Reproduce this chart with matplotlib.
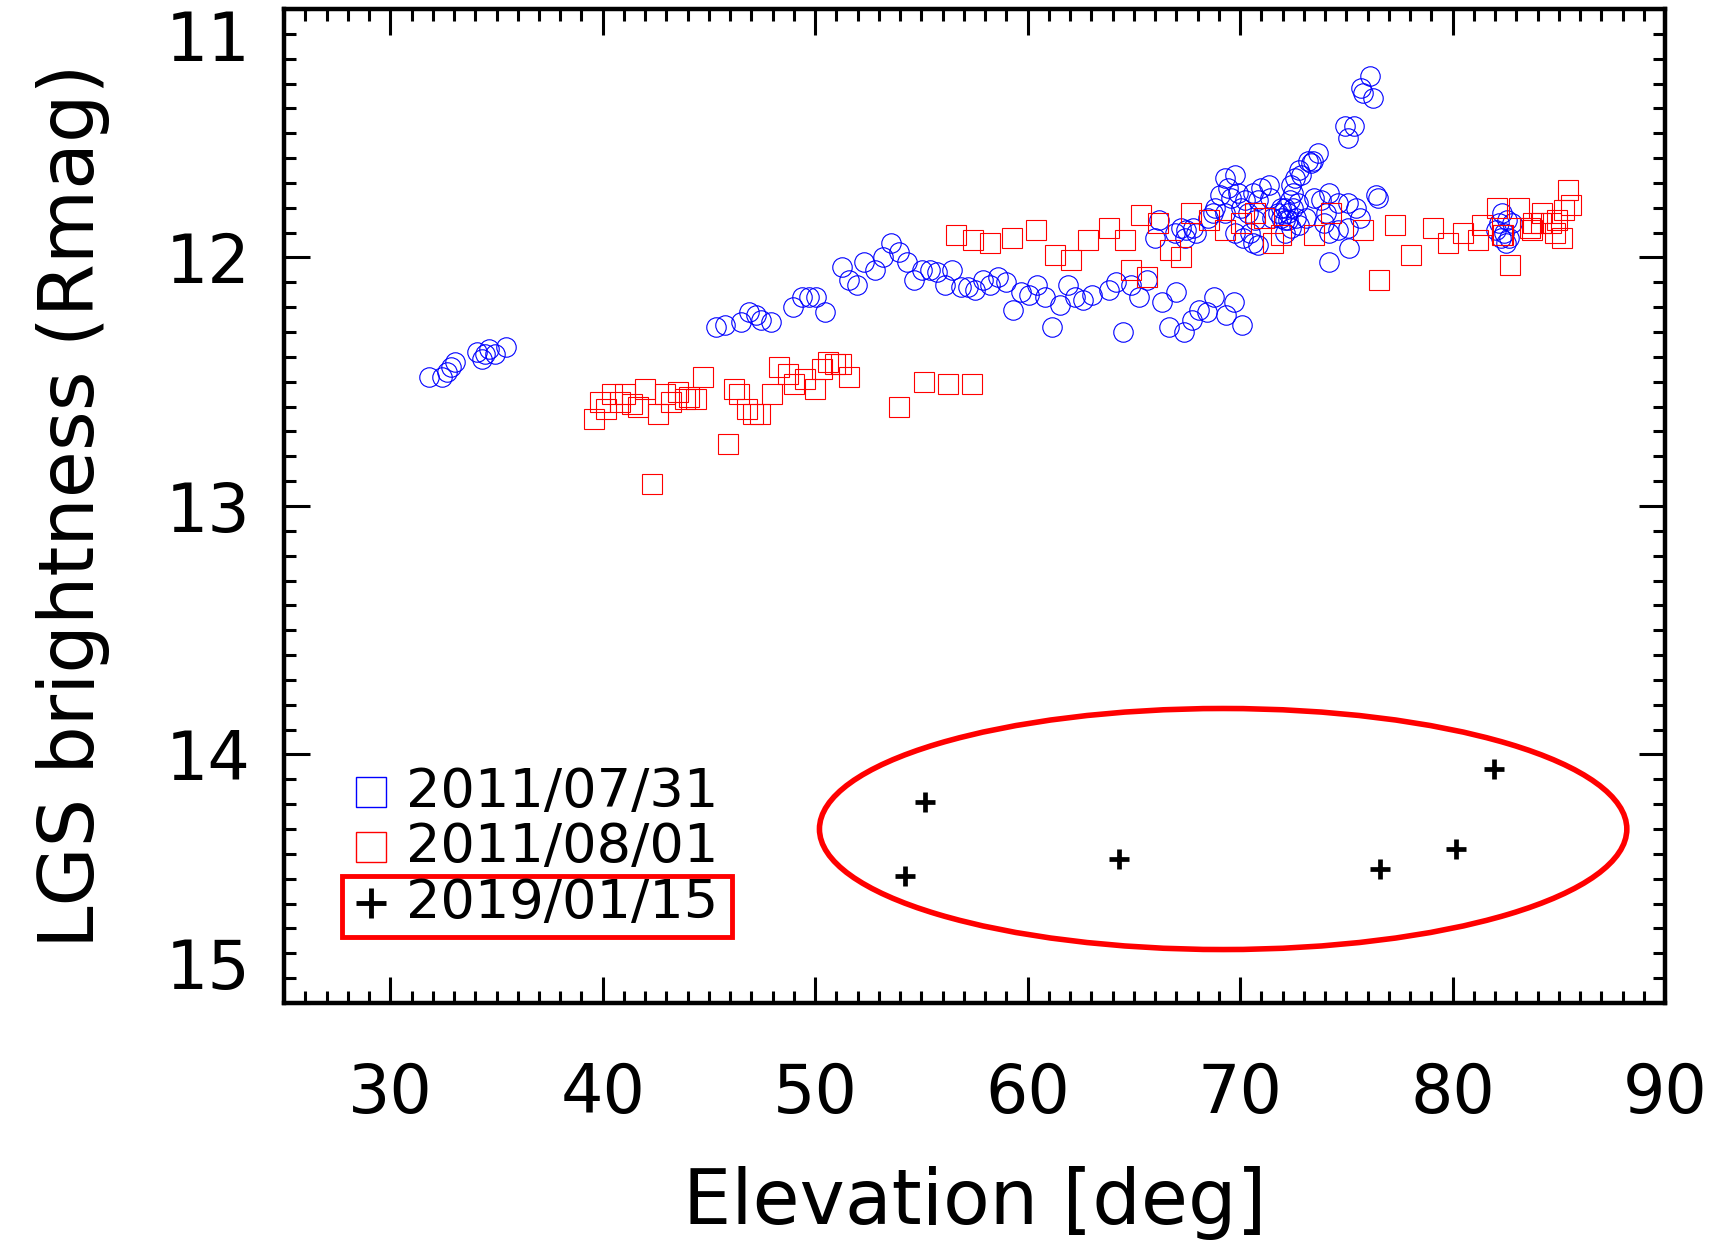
import matplotlib
matplotlib.use("Agg")
import matplotlib.pyplot as plt
from matplotlib.patches import Ellipse, Rectangle
from matplotlib.ticker import MultipleLocator

# 2011/07/31 (blue circles)
blue_elev = [31.84, 32.42, 32.65, 32.84, 33.05, 34.06, 34.30, 34.46, 34.64, 34.92, 35.44,
             45.35, 45.77, 46.49, 46.88, 47.21, 47.47, 47.92, 48.97, 49.36, 49.72,
             50.04, 50.44, 51.25, 51.61, 51.97, 52.32, 52.83, 53.19, 53.58, 53.94,
             54.30, 54.66, 55.02, 55.38, 55.74, 56.10, 56.46, 56.87, 57.18, 57.54,
             57.90, 58.25, 58.62, 58.97, 59.33, 59.70, 60.05, 60.46, 60.81, 61.16,
             61.53, 61.88, 62.21, 62.60, 63.01, 63.83, 64.18, 64.51, 64.86, 65.23,
             65.62, 65.98, 66.20, 66.93, 67.20,
             66.32, 66.65, 66.97, 67.35, 67.73, 68.07, 68.43, 68.77, 69.33, 69.71, 70.08,
             69.27, 69.74, 69.43, 69.90, 69.04, 69.59, 70.21, 70.06, 68.80, 69.27,
             70.61, 71.00, 71.34, 70.84, 70.37, 70.68, 70.45, 70.84, 70.14, 70.61,
             69.74, 67.47, 67.79, 67.39, 67.94, 68.49, 68.73,
             72.56, 72.40, 72.48, 72.33, 72.48, 72.25, 72.09, 72.64, 71.93, 71.78,
             72.40, 72.72, 72.87, 72.09, 72.25, 71.93, 73.11, 72.79, 72.09, 71.49,
             71.39, 73.50, 74.20, 73.81, 74.05, 74.60, 75.07, 75.46, 75.62, 75.07,
             74.60, 74.20, 73.97, 75.11, 74.20, 76.47, 76.39, 72.79,
             73.19, 73.42, 73.66, 73.34, 74.95, 75.35, 75.07, 76.10, 75.67, 75.79, 76.26,
             82.34, 82.18, 82.58, 82.81, 82.03, 82.42, 82.26, 82.65, 82.51]
blue_mag = [12.48, 12.48, 12.46, 12.44, 12.42, 12.38, 12.41, 12.39, 12.37, 12.39, 12.36,
            12.28, 12.27, 12.26, 12.22, 12.23, 12.25, 12.26, 12.20, 12.16, 12.16,
            12.16, 12.22, 12.04, 12.09, 12.11, 12.02, 12.05, 12.00, 11.94, 11.98,
            12.02, 12.09, 12.05, 12.05, 12.06, 12.11, 12.05, 12.12, 12.12, 12.13,
            12.09, 12.11, 12.08, 12.10, 12.21, 12.14, 12.15, 12.11, 12.16, 12.28,
            12.19, 12.11, 12.16, 12.17, 12.15, 12.13, 12.10, 12.30, 12.11, 12.16,
            12.09, 11.92, 11.85, 11.90, 11.88,
            12.18, 12.28, 12.14, 12.30, 12.25, 12.21, 12.22, 12.16, 12.23, 12.18, 12.27,
            11.68, 11.67, 11.72, 11.74, 11.75, 11.76, 11.77, 11.80, 11.80, 11.82,
            11.74, 11.72, 11.71, 11.77, 11.82, 11.85, 11.90, 11.95, 11.92, 11.94,
            11.90, 11.89, 11.88, 11.92, 11.90, 11.84, 11.82,
            11.68, 11.71, 11.74, 11.77, 11.80, 11.82, 11.85, 11.84, 11.80, 11.82,
            11.88, 11.78, 11.67, 11.80, 11.85, 11.84, 11.84, 11.87, 11.90, 11.84,
            11.76, 11.76, 11.74, 11.77, 11.82, 11.78, 11.78, 11.80, 11.84, 11.88,
            11.89, 11.90, 11.86, 11.96, 12.02, 11.76, 11.75, 11.65,
            11.61, 11.61, 11.58, 11.62, 11.47, 11.47, 11.52, 11.27, 11.32, 11.34, 11.36,
            11.82, 11.86, 11.85, 11.86, 11.89, 11.90, 11.92, 11.92, 11.94]

# 2011/08/01 (red squares)
red_elev = [39.57, 39.88, 40.16, 40.45, 40.79, 41.07, 41.39, 41.65, 41.97, 42.59,
            42.91, 43.22, 43.53, 43.85, 44.08, 44.39, 44.70, 45.88, 42.31, 46.16,
            46.43, 46.77, 47.05, 47.39, 47.98, 48.28, 48.73, 49.00, 49.54, 49.99,
            50.31, 50.58, 50.94, 51.21, 51.57,
            53.94, 55.11, 56.24, 57.39,
            56.64, 57.45, 58.25, 59.24, 60.41, 61.27, 62.03, 62.84, 63.83, 64.58,
            64.86, 65.62, 65.35, 66.15, 66.69, 67.21,
            67.71, 68.52, 69.27, 70.68, 70.06, 71.12, 71.90, 71.54, 73.50, 74.28,
            75.77, 77.29, 78.04, 76.55, 79.06, 79.79, 80.51, 81.20, 81.40, 82.07,
            82.39, 82.70, 83.12, 83.64, 84.22, 83.78, 84.61, 84.80, 85.16, 85.23,
            85.42, 85.55, 84.92, 83.75, 84.14, 82.34]
red_mag = [12.65, 12.58, 12.61, 12.55, 12.58, 12.55, 12.59, 12.60, 12.53, 12.63,
           12.55, 12.58, 12.54, 12.57, 12.56, 12.57, 12.48, 12.75, 12.91, 12.53,
           12.55, 12.61, 12.63, 12.63, 12.55, 12.44, 12.47, 12.51, 12.49, 12.53,
           12.45, 12.42, 12.43, 12.43, 12.48,
           12.60, 12.50, 12.51, 12.51,
           11.91, 11.93, 11.94, 11.92, 11.89, 11.99, 12.01, 11.93, 11.88, 11.93,
           12.05, 12.08, 11.83, 11.86, 11.97, 12.00,
           11.82, 11.85, 11.89, 11.82, 11.86, 11.84, 11.91, 11.94, 11.91, 11.82,
           11.89, 11.87, 11.99, 12.09, 11.88, 11.94, 11.90, 11.93, 11.87, 11.80,
           11.91, 12.03, 11.80, 11.88, 11.82, 11.86, 11.86, 11.90, 11.92, 11.81,
           11.73, 11.79, 11.85, 11.89, 11.86, 11.91]

# 2019/01/15 (black pluses)
new_elev = [55.16, 54.22, 64.28, 76.58, 80.16, 81.97]
new_mag = [14.19, 14.49, 14.42, 14.46, 14.38, 14.06]

legend_labels = ["2011/07/31", "2011/08/01", "2019/01/15"]

plt.rcParams['font.family'] = ['DejaVu Sans']

fig = plt.figure(figsize=(17.33, 12.45), dpi=100)
ax = fig.add_axes([0.1639, 0.1944, 0.7969, 0.7984])

ax.plot(blue_elev, blue_mag, 'o', ms=14, mfc='none', mec='blue', mew=0.8)
ax.plot(red_elev, red_mag, 's', ms=14, mfc='none', mec='red', mew=0.8)
ax.plot(new_elev, new_mag, '+', ms=15, mec='black', mew=3.4)

ax.add_patch(Ellipse((69.2, 14.30), 38.0, 0.97, fill=False, ec='red', lw=4))

ax.set_xlim(25, 90)
ax.set_ylim(15, 11)
ax.set_xticks([30, 40, 50, 60, 70, 80, 90])
ax.set_yticks([11, 12, 13, 14, 15])
ax.xaxis.set_minor_locator(MultipleLocator(1))
ax.yaxis.set_minor_locator(MultipleLocator(0.1))
ax.tick_params(which='both', direction='in', top=True, right=True, width=2.2)
ax.tick_params(which='major', length=19, labelsize=48)
ax.tick_params(which='minor', length=8.5)
ax.tick_params(axis='x', pad=42)
ax.tick_params(axis='y', pad=24)
for s in ax.spines.values():
    s.set_linewidth(3.2)

ylabs = ax.get_yticklabels()
ylabs[0].set_va('top')
ylabs[-1].set_va('bottom')

ax.set_xlabel("Elevation [deg]", fontsize=55, labelpad=28)
ax.set_ylabel("LGS brightness (Rmag)", fontsize=55, labelpad=40)

# legend drawn by hand
rows = [0.212, 0.157, 0.101]
ax.plot([0.063], [rows[0]], 's', ms=21, mfc='none', mec='blue', mew=1, transform=ax.transAxes)
ax.plot([0.063], [rows[1]], 's', ms=21, mfc='none', mec='red', mew=1, transform=ax.transAxes)
ax.plot([0.063], [rows[2]], '+', ms=22, mec='black', mew=3.5, transform=ax.transAxes)
for r, lab in zip(rows, legend_labels):
    ax.text(0.088, r, lab, transform=ax.transAxes, fontsize=39, va='center', ha='left')
ax.add_patch(Rectangle((0.0418, 0.0667), 0.2824, 0.0611, transform=ax.transAxes,
                       fill=False, ec='red', lw=3.5))

plt.savefig("out.png", dpi=100)
